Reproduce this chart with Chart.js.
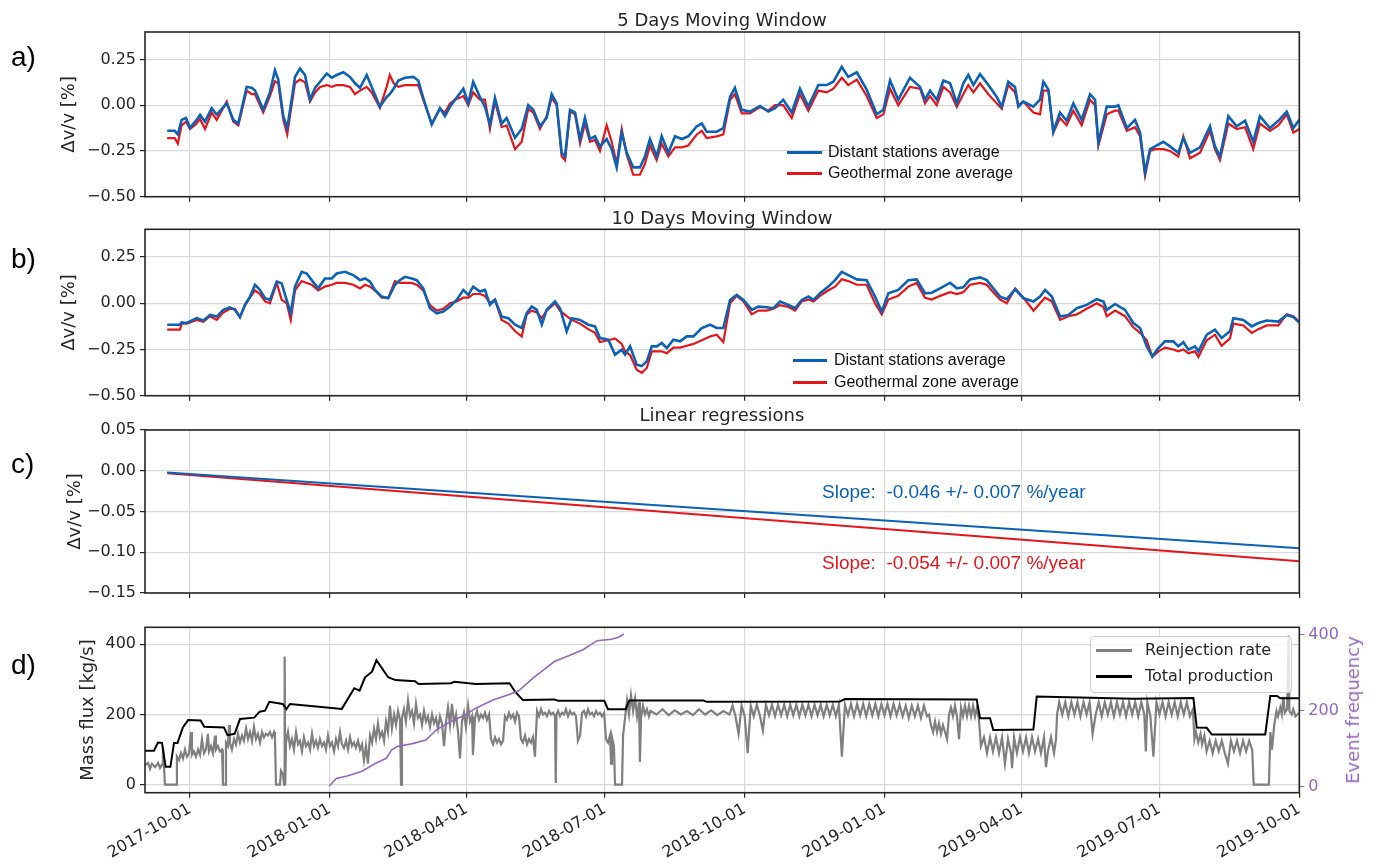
<!DOCTYPE html>
<html>
<head>
<meta charset="utf-8">
<script src="https://cdn.jsdelivr.net/npm/chart.js"></script>
<style>
  body { margin: 0; background: #fff; }
  #page { position: relative; width: 1375px; height: 866px; overflow: hidden; font-family: "DejaVu Sans", sans-serif; color: #262626; }
  canvas { position: absolute; left: 0; }
  .panel { position: absolute; left: 11px; font-family: "Liberation Sans", Arial, sans-serif; font-size: 28px; line-height: 28px; color: #000; }
  .title { position: absolute; left: 145px; width: 1154px; text-align: center; font-size: 18px; line-height: 18px; white-space: nowrap; }
  .leg { position: absolute; font-family: "Liberation Sans", Arial, sans-serif; font-size: 16px; line-height: 18px; color: #111; white-space: nowrap; }
  .dleg { position: absolute; font-size: 16px; line-height: 18px; color: #262626; white-space: nowrap; }
  .swatch { position: absolute; }
  .slope { position: absolute; left: 822px; font-family: "Liberation Sans", Arial, sans-serif; font-size: 19px; line-height: 22px; white-space: pre; }
  .rtitle { position: absolute; left: 1353px; top: 710px; font-size: 18px; line-height: 20px; color: #9467bd; white-space: nowrap;
            transform: translate(-50%, -50%) rotate(-90deg); }
</style>
</head>
<body>
<div id="page">
  <canvas id="chartA" width="1375" height="205" style="top:0px"></canvas>
  <canvas id="chartB" width="1375" height="200" style="top:205px"></canvas>
  <canvas id="chartC" width="1375" height="200" style="top:405px"></canvas>
  <canvas id="chartD" width="1375" height="261" style="top:605px"></canvas>

  <div class="panel" style="top:43px">a)</div>
  <div class="panel" style="top:245px">b)</div>
  <div class="panel" style="top:450px">c)</div>
  <div class="panel" style="top:651px">d)</div>

  <div class="title" style="top:11px">5 Days Moving Window</div>
  <div class="title" style="top:209px">10 Days Moving Window</div>
  <div class="title" style="top:406px">Linear regressions</div>

  <div class="swatch" style="left:787px;top:150.5px;width:35px;height:3px;background:#0b62b5"></div>
  <div class="leg" style="left:828px;top:143px">Distant stations average</div>
  <div class="swatch" style="left:787px;top:171.5px;width:35px;height:3px;background:#e3161b"></div>
  <div class="leg" style="left:828px;top:164px">Geothermal zone average</div>

  <div class="swatch" style="left:793px;top:358.5px;width:34px;height:3px;background:#0b62b5"></div>
  <div class="leg" style="left:834px;top:351px">Distant stations average</div>
  <div class="swatch" style="left:793px;top:380.5px;width:34px;height:3px;background:#e3161b"></div>
  <div class="leg" style="left:834px;top:373px">Geothermal zone average</div>

  <div class="slope" style="top:481px;color:#0b62b5">Slope:  -0.046 +/- 0.007 %/year</div>
  <div class="slope" style="top:552px;color:#e3161b">Slope:  -0.054 +/- 0.007 %/year</div>

  <div class="swatch" style="left:1090px;top:636px;width:200px;height:55px;border:1px solid #cfcfcf;border-radius:4px;background:rgba(255,255,255,0.8)"></div>
  <div class="swatch" style="left:1096px;top:649px;width:36px;height:2.5px;background:#7f7f7f"></div>
  <div class="dleg" style="left:1145px;top:641px">Reinjection rate</div>
  <div class="swatch" style="left:1096px;top:675px;width:36px;height:2.5px;background:#000"></div>
  <div class="dleg" style="left:1145px;top:667px">Total production</div>

  <div class="rtitle">Event frequency</div>
</div>

<script>
// x axis: days since 2017-10-01
var xTickDays = [0, 92, 182, 273, 365, 457, 547, 638, 730];
var xTickLabels = ['2017-10-01', '2018-01-01', '2018-04-01', '2018-07-01', '2018-10-01',
                   '2019-01-01', '2019-04-01', '2019-07-01', '2019-10-01'];

var dvTicks = [-0.5, -0.25, 0, 0.25];
var dvTickLabels = ['\u22120.50', '\u22120.25', '0.00', '0.25'];
var regTicks = [-0.15, -0.1, -0.05, 0, 0.05];
var regTickLabels = ['\u22120.15', '\u22120.10', '\u22120.05', '0.00', '0.05'];
var fluxTicks = [0, 200, 400];
var fluxTickLabels = ['0', '200', '400'];
var eventTicks = [0, 200, 400];
var eventTickLabels = ['0', '200', '400'];

// a) 5 days moving window
var aDays = [
  -15, -10, -8, -5.5, -2.6, 0, 4.4, 6.6, 9.9, 14.3,
  17.6, 24.2, 28.5, 31.8, 37.3, 40.6, 42.8, 48.2, 52.6, 55.9,
  58.1, 61.4, 64, 66.9, 69.1, 72.4, 75.7, 79, 82.3, 85.6,
  90, 93.3, 96.5, 100.9, 105.3, 108.6, 111.9, 116.3, 119.6, 125,
  129.4, 131.5, 134, 137.1, 141.5, 147, 150.2, 153.5, 159.1, 164.5,
  167.8, 171.1, 174.4, 179.9, 183.1, 186.4, 190.8, 194.1, 197.4, 200.7,
  205.1, 208.4, 213.9, 218.3, 222.6, 225.9, 230.3, 234.7, 238, 241.3,
  244.6, 246.8, 250.1, 253.4, 256.7, 259.9, 263.2, 266.5, 269.8, 274.2,
  277.5, 280.8, 284.1, 287.4, 291.7, 296.1, 299.4, 302.7, 307.1, 310.4,
  314.8, 319.2, 323.6, 327.9, 333.5, 336.8, 340, 346.6, 351, 355.4,
  358.6, 363.1, 368.5, 375.1, 380.6, 385, 390.4, 396, 401.4, 406.9,
  413.5, 419, 423.4, 428.9, 433.2, 438.8, 445.3, 451.9, 456.3, 460.7,
  466.1, 473.8, 480.4, 483.7, 487, 491.4, 495.8, 500.2, 504.6, 508.9,
  512.2, 515.5, 519.9, 525.4, 530.9, 534.2, 538.5, 542.9, 545.1, 548.4,
  555, 559.4, 561.6, 564.9, 568.1, 572.5, 576.9, 581.3, 586.8, 592.3,
  595.6, 597.8, 603.3, 608.7, 610.9, 616.5, 621.9, 625.2, 628.5, 631.8,
  635.1, 640.5, 644.9, 650.4, 653.7, 658.1, 664.7, 671.2, 674.5, 677.8,
  683.3, 688.8, 694.3, 699.7, 704.1, 710.7, 716.2, 721.7, 726.1, 730
];
var aDistant = [
  -0.14, -0.14, -0.16, -0.08, -0.07, -0.124, -0.08, -0.052, -0.09, -0.016,
  -0.052, 0.01, -0.08, -0.10, 0.10, 0.095, 0.08, -0.025, 0.07, 0.19,
  0.14, -0.06, -0.124, 0.03, 0.155, 0.20, 0.165, 0.03, 0.095, 0.128,
  0.173, 0.15, 0.165, 0.18, 0.155, 0.12, 0.095, 0.165, 0.10, -0.008,
  0.045, 0.06, 0.09, 0.135, 0.15, 0.155, 0.135, 0.04, -0.106, -0.016,
  -0.06, -0.008, 0.03, 0.09, 0.01, 0.128, 0.045, -0.008, -0.106, 0.04,
  -0.10, -0.07, -0.178, -0.13, 0.0, -0.025, -0.115, -0.07, 0.06, 0.01,
  -0.26, -0.28, -0.025, -0.04, -0.185, -0.07, -0.185, -0.17, -0.225, -0.185,
  -0.24, -0.34, -0.15, -0.26, -0.34, -0.34, -0.28, -0.185, -0.28, -0.17,
  -0.26, -0.17, -0.185, -0.17, -0.115, -0.10, -0.145, -0.145, -0.125, 0.045,
  0.095, -0.025, -0.035, -0.004, -0.035, -0.016, 0.03, -0.04, 0.09, -0.008,
  0.11, 0.11, 0.128, 0.21, 0.155, 0.18, 0.085, -0.05, -0.025, 0.135,
  0.03, 0.15, 0.10, 0.03, 0.08, 0.03, 0.135, 0.12, 0.01, 0.12,
  0.165, 0.11, 0.17, 0.11, 0.045, -0.008, 0.128, 0.10, -0.008, 0.02,
  -0.008, 0.03, 0.128, 0.085, -0.145, -0.04, -0.085, 0.01, -0.08, 0.06,
  0.03, -0.205, -0.008, -0.008, 0.0, -0.125, -0.08, -0.15, -0.367, -0.24,
  -0.225, -0.20, -0.225, -0.26, -0.18, -0.26, -0.23, -0.115, -0.225, -0.28,
  -0.06, -0.115, -0.085, -0.20, -0.06, -0.125, -0.085, -0.035, -0.125, -0.08
];
var aGeo = [
  -0.18, -0.18, -0.21, -0.11, -0.09, -0.13, -0.10, -0.075, -0.13, -0.04,
  -0.08, 0.02, -0.09, -0.11, 0.08, 0.06, 0.06, -0.04, 0.05, 0.13,
  0.12, -0.08, -0.16, 0.0, 0.12, 0.14, 0.125, 0.02, 0.07, 0.10,
  0.11, 0.10, 0.11, 0.11, 0.10, 0.06, 0.08, 0.10, 0.07, -0.015,
  0.10, 0.165, 0.12, 0.10, 0.11, 0.11, 0.11, 0.03, -0.10, -0.02,
  -0.04, 0.01, 0.03, 0.05, 0.0, 0.07, 0.03, 0.03, -0.13, 0.02,
  -0.12, -0.11, -0.24, -0.20, -0.02, -0.04, -0.13, -0.06, 0.04, 0.0,
  -0.28, -0.30, -0.035, -0.05, -0.21, -0.10, -0.20, -0.19, -0.25, -0.11,
  -0.20, -0.32, -0.13, -0.27, -0.38, -0.38, -0.32, -0.22, -0.30, -0.21,
  -0.28, -0.23, -0.23, -0.22, -0.16, -0.14, -0.18, -0.17, -0.16, 0.03,
  0.06, -0.045, -0.045, -0.01, -0.03, 0.0, 0.0, -0.07, 0.06, -0.03,
  0.08, 0.07, 0.09, 0.15, 0.11, 0.14, 0.05, -0.07, -0.05, 0.09,
  0.0, 0.10, 0.09, 0.01, 0.05, 0.0, 0.10, 0.07, -0.01, 0.06,
  0.11, 0.07, 0.12, 0.06, 0.01, -0.02, 0.11, 0.07, 0.0, 0.02,
  -0.04, -0.05, 0.08, 0.08, -0.15, -0.07, -0.11, -0.03, -0.11, 0.03,
  0.0, -0.22, -0.05, -0.03, -0.03, -0.14, -0.12, -0.17, -0.385, -0.25,
  -0.24, -0.24, -0.25, -0.28, -0.17, -0.29, -0.26, -0.14, -0.24, -0.30,
  -0.10, -0.13, -0.12, -0.24, -0.10, -0.14, -0.11, -0.05, -0.15, -0.13
];

// b) 10 days moving window
var bDays = [
  -15, -6.6, -5.5, -2.2, 4.4, 8.8, 13.2, 17.6, 21.9, 26.3,
  29.6, 32.9, 36.2, 39.5, 42.8, 46.1, 49.4, 52.6, 57.1, 60.3,
  63.6, 66.3, 69.1, 73.5, 76.8, 80.1, 84.4, 88.8, 93.3, 96.5,
  102, 107.5, 111.9, 115.2, 118.5, 121.7, 126.2, 130.5, 134.9, 138.2,
  141.5, 145.9, 149.2, 153.5, 157.9, 162.4, 166.7, 171.1, 175.5, 179.9,
  183.1, 186.4, 190.8, 194.1, 197.4, 200.7, 205.1, 209.5, 213.9, 218.3,
  221.6, 224.9, 228.2, 231.5, 234.7, 240.2, 243.5, 247.9, 251.2, 256.7,
  262.1, 266.5, 269.8, 275.3, 279.7, 284.1, 286.3, 289.6, 294, 297.3,
  300.6, 303.9, 307.2, 310.5, 313.8, 318.1, 322.5, 326.9, 331.3, 336.8,
  342.2, 346.6, 351, 355.4, 359.8, 364.2, 369.7, 374, 379.5, 383.9,
  388.3, 393.8, 398.2, 402.6, 407, 410.3, 414.6, 420.1, 424.5, 428.9,
  433.2, 438.8, 445.3, 450.8, 455.2, 459.6, 466.1, 472.7, 478.2, 483.7,
  488.1, 493.6, 500.2, 504.6, 508.9, 513.3, 519.9, 524.3, 528.6, 533.1,
  537.5, 543, 548.5, 555.1, 559.4, 562.7, 567.1, 572.6, 578.1, 583.6,
  590.1, 596.7, 601.1, 603.3, 608.8, 615.3, 620.8, 625.2, 629.6, 633.3,
  637.3, 641.6, 647.1, 650.4, 653.7, 657, 661.4, 663.6, 669.1, 674.5,
  678.9, 684.4, 686.6, 693.2, 698.7, 703.1, 708.6, 716.2, 721.7, 726.1,
  730
];
var bDistant = [
  -0.116, -0.116, -0.104, -0.107, -0.08, -0.093, -0.063, -0.072, -0.036, -0.022,
  -0.036, -0.075, -0.009, 0.036, 0.1, 0.072, 0.027, 0.018, 0.117, 0.108,
  0.018, -0.054, 0.09, 0.17, 0.161, 0.125, 0.081, 0.134, 0.134, 0.161,
  0.17, 0.152, 0.125, 0.134, 0.117, 0.072, 0.036, 0.027, 0.1, 0.125,
  0.143, 0.134, 0.125, 0.081, -0.027, -0.054, -0.045, -0.018, 0.018, 0.072,
  0.045, 0.09, 0.063, 0.072, -0.009, 0.018, -0.072, -0.081, -0.116, -0.134,
  -0.054, -0.018, -0.036, -0.116, -0.036, 0.009, -0.027, -0.152, -0.081, -0.09,
  -0.116, -0.125, -0.188, -0.197, -0.278, -0.251, -0.278, -0.233, -0.332, -0.34,
  -0.314, -0.233, -0.233, -0.215, -0.242, -0.197, -0.206, -0.179, -0.179, -0.134,
  -0.116, -0.134, -0.134, 0.018, 0.045, 0.018, -0.036, -0.018, -0.022, -0.027,
  0.009, -0.009, -0.027, 0.018, 0.036, 0.018, 0.054, 0.09, 0.125, 0.17,
  0.152, 0.129, 0.125, 0.036, -0.045, 0.054, 0.072, 0.125, 0.129, 0.054,
  0.057, 0.081, 0.111, 0.081, 0.086, 0.129, 0.14, 0.125, 0.081, 0.036,
  0.022, 0.075, 0.027, 0.009, 0.036, 0.072, 0.036, -0.072, -0.063, -0.027,
  -0.009, 0.022, 0.009, -0.036, -0.004, -0.036, -0.107, -0.134, -0.233, -0.287,
  -0.242, -0.206, -0.206, -0.233, -0.211, -0.251, -0.233, -0.26, -0.17, -0.143,
  -0.188, -0.152, -0.081, -0.09, -0.125, -0.107, -0.093, -0.099, -0.063, -0.075,
  -0.104
];
var bGeo = [
  -0.143, -0.143, -0.11, -0.11, -0.09, -0.10, -0.07, -0.09, -0.05, -0.03,
  -0.03, -0.075, -0.01, 0.03, 0.07, 0.05, 0.01, 0.0, 0.11, 0.02,
  0.0, -0.09, 0.07, 0.12, 0.11, 0.10, 0.07, 0.09, 0.10, 0.11,
  0.11, 0.10, 0.08, 0.10, 0.09, 0.07, 0.03, 0.03, 0.12, 0.11,
  0.11, 0.11, 0.10, 0.07, -0.01, -0.04, -0.03, 0.0, 0.01, 0.03,
  0.03, 0.05, 0.05, 0.04, 0.0, 0.02, -0.09, -0.11, -0.15, -0.18,
  -0.06, -0.04, -0.05, -0.08, -0.04, 0.0, -0.04, -0.07, -0.09, -0.11,
  -0.14, -0.16, -0.21, -0.20, -0.19, -0.22, -0.26, -0.28, -0.36, -0.376,
  -0.35, -0.26, -0.26, -0.26, -0.27, -0.24, -0.24, -0.23, -0.22, -0.20,
  -0.18, -0.17, -0.21, 0.0, 0.04, 0.01, -0.06, -0.04, -0.04, -0.03,
  -0.01, -0.02, -0.04, 0.01, 0.02, 0.01, 0.04, 0.07, 0.09, 0.13,
  0.12, 0.10, 0.10, 0.0, -0.06, 0.02, 0.04, 0.09, 0.11, 0.03,
  0.02, 0.04, 0.06, 0.05, 0.06, 0.10, 0.11, 0.10, 0.06, 0.02,
  0.0, 0.08, 0.03, -0.04, 0.0, 0.03, 0.01, -0.09, -0.07, -0.06,
  -0.03, 0.0, -0.02, -0.07, -0.04, -0.07, -0.13, -0.16, -0.20, -0.29,
  -0.26, -0.24, -0.25, -0.26, -0.25, -0.27, -0.26, -0.29, -0.20, -0.17,
  -0.23, -0.19, -0.11, -0.12, -0.16, -0.14, -0.12, -0.12, -0.06, -0.07,
  -0.10
];

// c) linear regressions (end points)
var cDays = [-15, 730];
var cDistant = [-0.002, -0.095];
var cGeo = [-0.003, -0.111];

// d) reinjection rate [kg/s]
var dReinjDays = [
  -29.6, -27.6, -26.3, -25, -23, -21, -19.7, -18.4, -17.8, -17.1,
  -16.5, -9.2, -8.6, -7.2, -5.9, -4.6, -3.3, -2, -0.7, 0.7,
  1.3, 2.6, 3.9, 5.3, 6.6, 7.9, 9.2, 10.5, 11.8, 12.5,
  13.8, 15.1, 16.5, 17.1, 18.4, 19.7, 21.1, 21.7, 23.4, 23.7,
  25, 25.7, 26.3, 27.6, 29, 30.3, 31.6, 32.9, 34.2, 35.5,
  36.9, 38.2, 39.5, 40.8, 42.1, 43.4, 44.7, 46.1, 47.4, 48.7,
  50, 51.3, 52.6, 54, 55.3, 55.9, 56.6, 59.2, 59.9, 61.2,
  61.9, 62.3, 62.7, 63.2, 64.5, 65.8, 67.1, 68.4, 69.8, 71.1,
  72.4, 73.7, 75, 76.3, 77.7, 79, 80.3, 81.6, 82.9, 84.2,
  85.5, 86.9, 88.2, 89.5, 90.8, 92.1, 93.4, 94.8, 96.1, 97.4,
  98.7, 100, 101.3, 102.7, 104, 105.3, 106.6, 107.9, 109.2, 110.6,
  111.9, 113.2, 114.5, 115.8, 117.1, 118.5, 119.8, 121.1, 122.4, 123.7,
  125, 126.4, 127.7, 129, 130.3, 131.6, 132.9, 134.3, 135.6, 136.9,
  138.2, 138.9, 139.5, 140.8, 142.1, 143.5, 144.8, 146.1, 147.4, 148.7,
  150, 151.4, 152.7, 154, 155.3, 156.6, 157.9, 159.3, 160.6, 161.9,
  163.2, 164.5, 165.8, 167.2, 168.5, 169.8, 171.1, 172.4, 173.7, 175.1,
  176.4, 177.7, 179, 180.3, 181.6, 183, 184.3, 185.6, 186.2, 187.6,
  188.9, 190.2, 191.5, 192.8, 194.1, 195.4, 196.8, 198.1, 199.4, 200.7,
  202, 203.3, 204.7, 206, 207.3, 208.6, 209.9, 211.2, 212.6, 213.9,
  215.2, 216.5, 217.8, 219.1, 220.5, 221.8, 223.1, 224.4, 225.7, 227,
  228.4, 229.7, 231, 232.3, 233.6, 234.9, 236.3, 237.6, 238.9, 240.2,
  240.7, 241.2, 242.2, 243.5, 244.8, 246.1, 247.4, 248.8, 250.1, 251.4,
  252.7, 254, 255.3, 256.7, 258, 259.3, 260.6, 261.9, 263.2, 264.6,
  265.9, 267.2, 268.5, 269.8, 271.1, 272.5, 273.8, 275.1, 276.4, 277.1,
  277.7, 279, 279.7, 284.3, 285, 286.3, 287.6, 288.9, 290.2, 291.6,
  292.9, 294.2, 295.5, 296.1, 296.8, 298.1, 299.4, 300.7, 302, 303,
  307, 311, 315, 319, 323, 327, 331, 335, 339, 343,
  347, 351, 355, 357, 359, 361, 363, 365, 367, 369,
  371, 373, 375, 377, 379, 381, 383, 385, 387, 389,
  391, 393, 395, 397, 399, 401, 403, 405, 407, 409,
  411, 413, 415, 417, 419, 421, 423, 425, 427, 429,
  431, 433, 435, 437, 439, 441, 443, 445, 447, 449,
  451, 453, 455, 457, 459, 461, 463, 465, 467, 469,
  471, 473, 475, 477, 479, 481, 483, 485, 486.3, 487.6,
  489, 490.3, 491.6, 492.9, 494.2, 495.5, 496.9, 498.2, 499.5, 500.8,
  502.1, 503.4, 504.7, 506.1, 507.4, 508.7, 510, 511.3, 512.6, 514,
  515.3, 516.6, 517.9, 519.2, 520.5, 522.5, 524.5, 526.5, 528.4, 530.4,
  532.4, 534.4, 536.3, 538.3, 540.3, 541, 542.3, 544.2, 546.2, 548.2,
  550.2, 552.1, 554.1, 556.1, 558.1, 560, 562, 563.3, 564.6, 566.6,
  568.6, 569.9, 570.6, 572, 574, 576, 578, 580, 582, 584,
  586, 588, 590, 592, 594, 596, 598, 600, 602, 604,
  606, 608, 610, 612, 614, 616, 618, 620, 622, 624,
  626, 628, 629, 630, 632, 634, 636, 638, 640, 642,
  644, 646, 648, 650, 652, 654, 656, 658, 660, 661,
  662, 663.5, 665, 666, 667.5, 669, 671, 673, 675, 677,
  679, 681, 683, 685, 687, 689, 691, 693, 695, 697,
  699, 700, 710, 711, 712, 713.5, 715, 716, 717.5, 718.5,
  719.5, 720.5, 722, 723, 723.5, 725, 726, 727.5, 730
];
var dReinj = [
  55, 62, 45, 60, 50, 62, 48, 58, 108, 55,
  0, 0, 80, 70, 90, 75, 100, 80, 88, 150,
  85, 95, 80, 100, 85, 130, 90, 100, 145, 95,
  110, 90, 140, 100, 110, 95, 100, 0, 0, 120,
  110, 170, 120, 100, 130, 115, 145, 120, 140, 125,
  160, 130, 150, 125, 165, 130, 145, 120, 150, 135,
  145, 140, 150, 135, 150, 140, 0, 0, 40, 30,
  0, 365, 0, 120, 150, 110, 130, 100, 150, 115,
  125, 95, 135, 110, 120, 100, 145, 110, 125, 105,
  130, 110, 120, 100, 140, 110, 120, 95, 130, 110,
  150, 115, 105, 125, 100, 135, 110, 120, 105, 125,
  100, 115, 70, 110, 60, 140, 120, 160, 130, 175,
  135, 150, 125, 180, 150, 225, 160, 200, 170, 210,
  185, 0, 190, 215, 180, 240, 195, 210, 175, 230,
  190, 200, 170, 210, 180, 195, 165, 200, 175, 190,
  160, 195, 175, 110, 180, 220, 170, 230, 175, 200,
  150, 75, 180, 205, 165, 225, 180, 195, 85, 190,
  210, 185, 200, 190, 205, 185, 200, 130, 115, 135,
  120, 130, 115, 125, 195, 185, 205, 190, 200, 180,
  205, 195, 130, 120, 140, 115, 130, 120, 135, 80,
  210, 195, 215, 200, 205, 195, 210, 200, 205, 195,
  5, 200, 210, 195, 205, 200, 215, 195, 210, 200,
  205, 195, 125, 140, 205, 210, 195, 215, 200, 205,
  195, 210, 200, 205, 195, 205, 130, 120, 140, 60,
  135, 110, 0, 0, 140, 190, 240, 200, 255, 210,
  245, 195, 235, 65, 190, 225, 200, 215, 195, 210,
  200, 215, 198, 212, 200, 210, 198, 215, 200, 212,
  198, 210, 200, 225, 195, 145, 225, 195, 90, 225,
  195, 228, 198, 155, 228, 198, 228, 195, 228, 198,
  228, 195, 228, 198, 228, 195, 228, 198, 228, 195,
  228, 198, 228, 195, 228, 198, 228, 195, 228, 80,
  228, 198, 230, 195, 230, 198, 230, 195, 230, 198,
  230, 195, 230, 198, 230, 195, 230, 198, 228, 195,
  225, 190, 225, 195, 225, 190, 225, 195, 200, 170,
  150, 180, 150, 175, 145, 170, 150, 130, 200, 220,
  195, 225, 195, 130, 220, 195, 225, 195, 225, 195,
  225, 195, 220, 185, 110, 135, 90, 135, 95, 135,
  90, 135, 60, 130, 90, 47, 135, 90, 135, 95,
  135, 90, 135, 95, 130, 90, 135, 50, 95, 135,
  90, 130, 200, 235, 200, 235, 195, 235, 200, 235,
  195, 235, 200, 235, 145, 200, 235, 195, 235, 200,
  235, 195, 235, 200, 235, 195, 235, 200, 235, 195,
  235, 200, 95, 235, 195, 80, 235, 200, 235, 195,
  235, 200, 235, 195, 235, 200, 235, 195, 215, 130,
  150, 120, 145, 115, 140, 95, 125, 90, 125, 95,
  125, 90, 60, 125, 95, 125, 90, 125, 95, 125,
  100, 0, 0, 150, 100, 170, 210, 195, 220, 200,
  250, 205, 215, 425, 210, 200, 215, 195, 205
];

// d) total production [kg/s]
var dProdDays = [
  -29.6, -23.7, -21.1, -18.4, -16, -12.9, -10.5, -8.2, -4.7, -1.2,
  7, 9.4, 22.4, 24.7, 29.4, 32.9, 42.3, 45.8, 49.4, 52.2,
  61.1, 63.4, 65.8, 91.7, 99.9, 108.1, 111.6, 115.2, 119.8, 122.7,
  130.4, 135.2, 148.1, 150.4, 171.6, 174, 188, 210.3, 213.9, 219.1,
  239.8, 242.2, 272.7, 275, 286.7, 289.1, 337.8, 340, 427.8, 431,
  517.7, 519.9, 526.5, 528.6, 555, 557.2, 620.8, 660.3, 662.5, 669.1,
  672.4, 707.6, 710.9, 715.3, 717.5, 730
];
var dProd = [
  97, 97, 120, 119, 51, 51, 119, 119, 163, 184,
  183, 165, 163, 141, 145, 187, 191, 208, 211, 236,
  230, 215, 230, 219, 216, 275, 268, 306, 322, 355,
  306, 298, 295, 287, 289, 293, 287, 289, 265, 241,
  243, 239, 239, 215, 215, 240, 240, 236, 237, 244,
  243, 189, 189, 156, 157, 251, 245, 247, 163, 162,
  143, 143, 253, 253, 246, 246
];

// d) cumulative event frequency (right axis)
var dEventDays = [
  91.7, 96.3, 103.4, 112.8, 122.2, 129.2, 132.8, 136.3, 145.7, 155.1,
  162.2, 171.6, 181, 188, 199.8, 209.2, 216.3, 225.7, 232.7, 239.8,
  249.2, 258.6, 267.9, 277.3, 282.1, 285.5
];
var dEvents = [
  2, 22, 28, 40, 62, 75, 97, 106, 113, 123,
  150, 172, 189, 207, 229, 242, 253, 286, 308, 330,
  345, 361, 385, 389, 394, 403
];

var INK = '#262626';
var GRID = '#d9d9d9';
var BLUE = '#0b62b5';
var RED = '#e3161b';
var GREY = '#7f7f7f';
var PURPLE = '#9467bd';
var X_MIN = -29.6, X_MAX = 730;

Chart.defaults.font.family = '"DejaVu Sans", sans-serif';
Chart.defaults.font.size = 16;
Chart.defaults.color = INK;

// matplotlib-like box around each plot area
var framePlugin = {
  id: 'frame',
  afterDraw: function (chart) {
    var a = chart.chartArea, ctx = chart.ctx;
    ctx.save();
    ctx.strokeStyle = INK;
    ctx.lineWidth = 1.6;
    ctx.strokeRect(a.left, a.top, a.right - a.left, a.bottom - a.top);
    ctx.restore();
  }
};

function pts(xs, ys) {
  return xs.map(function (x, i) { return { x: x, y: ys[i] }; });
}

function line(data, color, width, axis) {
  return {
    data: data, borderColor: color, borderWidth: width, yAxisID: axis || 'y',
    pointRadius: 0, fill: false, tension: 0
  };
}

function xAxis(h, showLabels) {
  return {
    type: 'linear', min: X_MIN, max: X_MAX,
    afterBuildTicks: function (s) { s.ticks = xTickDays.map(function (v) { return { value: v }; }); },
    afterFit: function (s) { s.height = h; s.paddingLeft = 0; s.paddingRight = 0; },
    grid: { color: GRID, lineWidth: 1.2, tickColor: INK, tickLength: 5 },
    border: { display: false },
    ticks: showLabels ? {
      autoSkip: false, minRotation: 30, maxRotation: 30, padding: 2, color: INK,
      callback: function (v, i) { return xTickLabels[i]; }
    } : { display: false }
  };
}

function yAxis(min, max, vals, labels, w, title) {
  return {
    type: 'linear', position: 'left', min: min, max: max,
    afterBuildTicks: function (s) { s.ticks = vals.map(function (v) { return { value: v }; }); },
    afterFit: function (s) { s.width = w; s.paddingTop = 0; s.paddingBottom = 0; },
    grid: { color: GRID, lineWidth: 1.2, tickColor: INK, tickLength: 5 },
    border: { display: false },
    ticks: { autoSkip: false, padding: 4, color: INK, callback: function (v, i) { return labels[i]; } },
    title: { display: !!title, text: title, color: INK, font: { size: 18 }, padding: { top: 4, bottom: 0 } }
  };
}

function makeChart(id, datasets, scales, padding) {
  return new Chart(document.getElementById(id), {
    type: 'line',
    data: { datasets: datasets },
    options: {
      responsive: false, animation: false, devicePixelRatio: 1,
      layout: { padding: padding },
      scales: scales,
      plugins: { legend: { display: false }, tooltip: { enabled: false } }
    },
    plugins: [framePlugin]
  });
}

makeChart('chartA',
  [line(pts(aDays, aDistant), BLUE, 2.6), line(pts(aDays, aGeo), RED, 2.2)],
  { x: xAxis(8.3, false), y: yAxis(-0.5, 0.4, dvTicks, dvTickLabels, 90, '\u0394v/v [%]') },
  { top: 32, left: 55, right: 75.7, bottom: 0 });

makeChart('chartB',
  [line(pts(bDays, bDistant), BLUE, 2.6), line(pts(bDays, bGeo), RED, 2.2)],
  { x: xAxis(9.3, false), y: yAxis(-0.5, 0.4, dvTicks, dvTickLabels, 90, '\u0394v/v [%]') },
  { top: 24.3, left: 55, right: 75.7, bottom: 0 });

makeChart('chartC',
  [line(pts(cDays, cDistant), BLUE, 2), line(pts(cDays, cGeo), RED, 2)],
  { x: xAxis(12, false), y: yAxis(-0.15, 0.05, regTicks, regTickLabels, 84, '\u0394v/v [%]') },
  { top: 25, left: 61, right: 75.7, bottom: 0 });

// right axis: its title is the rotated HTML label "Event frequency"
var eventAxis = yAxis(-15.8, 420.3, eventTicks, eventTickLabels, 68.2, '');
eventAxis.position = 'right';
eventAxis.grid = { display: true, drawOnChartArea: false, color: 'rgba(0,0,0,0)', tickColor: PURPLE, tickLength: 5 };
eventAxis.ticks.color = PURPLE;

makeChart('chartD',
  [line(pts(dEventDays, dEvents), PURPLE, 1.6, 'y1'),
   line(pts(dProdDays, dProd), '#000000', 2),
   line(pts(dReinjDays, dReinj), GREY, 2.2)],
  { x: xAxis(73.3, true), y: yAxis(-22.8, 448.4, fluxTicks, fluxTickLabels, 71, 'Mass flux [kg/s]'), y1: eventAxis },
  { top: 22.3, left: 74, right: 7.5, bottom: 0 });
</script>
</body>
</html>
